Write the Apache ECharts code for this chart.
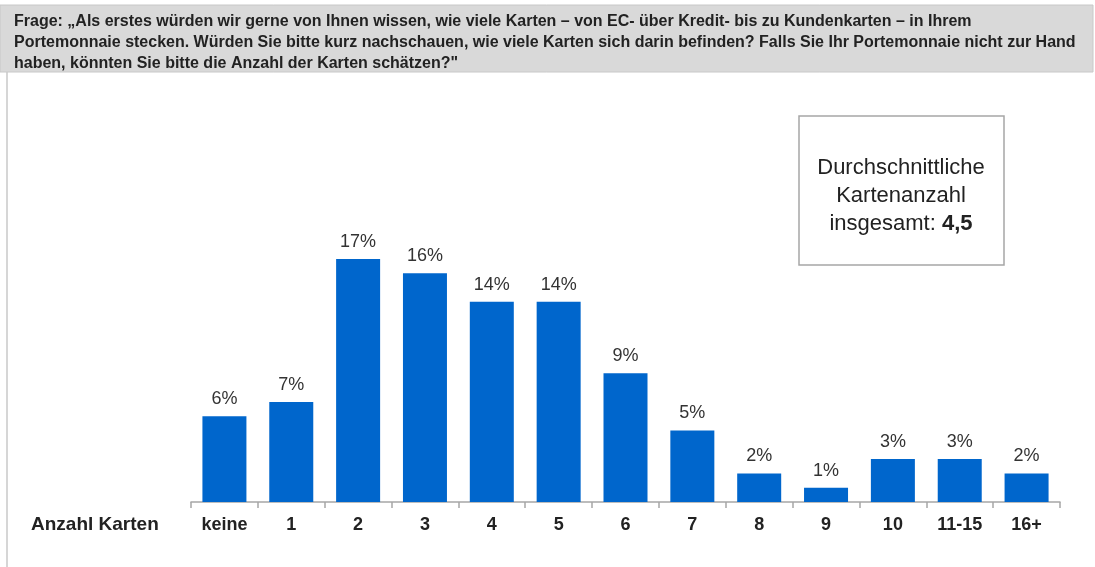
<!DOCTYPE html>
<html><head><meta charset="utf-8">
<script src="https://cdn.jsdelivr.net/npm/echarts@6/dist/echarts.min.js"></script>
<style>html,body{margin:0;padding:0;background:#fff}#c{width:1095px;height:567px}</style>
</head><body><div id="c"></div>
<script>
const categories = ['keine','1','2','3','4','5','6','7','8','9','10','11-15','16+'];
const values = [6,7,17,16,14,14,9,5,2,1,3,3,2];
const questionLines = [
  'Frage: „Als erstes würden wir gerne von Ihnen wissen, wie viele Karten – von EC- über Kredit- bis zu Kundenkarten – in Ihrem',
  'Portemonnaie stecken. Würden Sie bitte kurz nachschauen, wie viele Karten sich darin befinden? Falls Sie Ihr Portemonnaie nicht zur Hand',
  'haben, könnten Sie bitte die Anzahl der Karten schätzen?"'
];
const axisName = 'Anzahl Karten';
const FONT = '"Liberation Sans", Arial, sans-serif';

const chart = echarts.init(document.getElementById('c'));
chart.setOption({
  animation: false,
  grid: { left: 191, right: 35, top: 216, bottom: 65 },
  xAxis: {
    type: 'category', data: categories,
    axisLine: { lineStyle: { color: '#a6a6a6', width: 1.5 } },
    axisTick: { show: true, length: 6, lineStyle: { color: '#a6a6a6', width: 1.5 } },
    axisLabel: { color: '#222', fontWeight: 'bold', fontSize: 18, fontFamily: FONT, margin: 14 }
  },
  yAxis: { type: 'value', min: 0, max: 20, show: false, splitLine: { show: false } },
  series: [{
    type: 'bar', data: values, barWidth: 44,
    itemStyle: { color: '#0066cc' },
    label: { show: true, position: 'top', formatter: '{c}%', color: '#333', fontSize: 18, fontFamily: FONT, distance: 8 }
  }],
  graphic: [
    { type: 'rect', shape: { x: 0, y: 5, width: 1093, height: 67 }, style: { fill: '#d9d9d9', stroke: '#c8c8c8', lineWidth: 1 } },
    { type: 'line', shape: { x1: 7, y1: 72, x2: 7, y2: 567 }, style: { stroke: '#c8c8c8', lineWidth: 1.5 } },
    { type: 'text', left: 14, top: 11, style: { text: questionLines.join('\n'), font: 'bold 16px ' + FONT, fill: '#222', lineHeight: 21 } },
    { type: 'rect', shape: { x: 799, y: 116, width: 205, height: 149 }, style: { fill: '#fff', stroke: '#a6a6a6', lineWidth: 1.5 } },
    { type: 'text', x: 901, y: 196, style: {
        text: '{n|Durchschnittliche}\n{n|Kartenanzahl}\n{n|insgesamt: }{b|4,5}',
        align: 'center', verticalAlign: 'middle', fill: '#222',
        rich: { n: { font: '22px ' + FONT, fill: '#222', lineHeight: 28 }, b: { font: 'bold 22px ' + FONT, fill: '#222', lineHeight: 28 } }
    } },
    { type: 'text', x: 31, y: 515, style: { text: axisName, font: 'bold 19px ' + FONT, fill: '#222' } }
  ]
});
</script></body></html>
